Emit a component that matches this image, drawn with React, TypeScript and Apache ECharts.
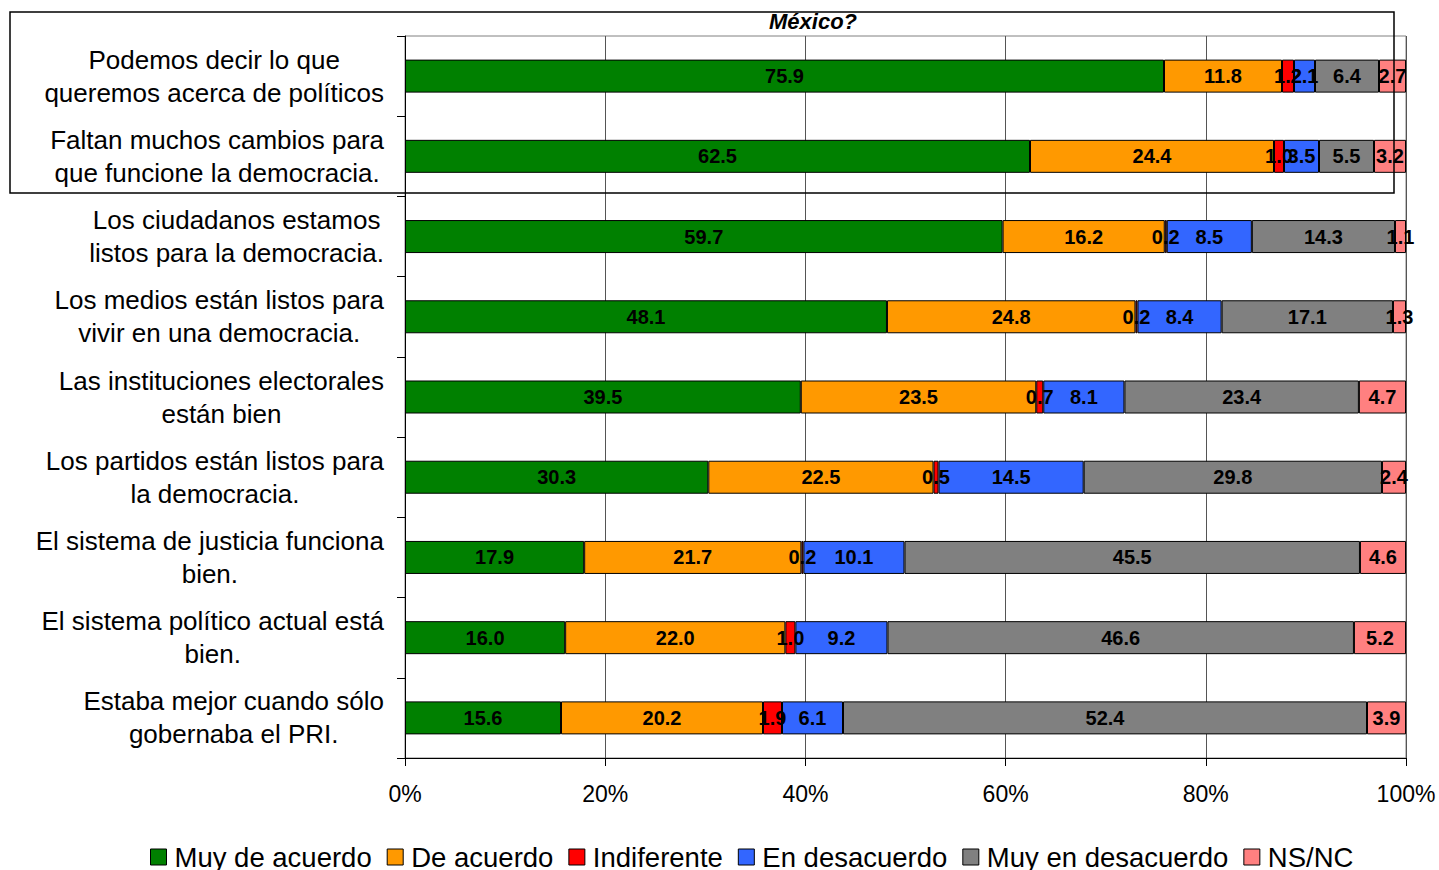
import React, { useEffect, useRef } from "react";
import * as echarts from "echarts";

const categories: string[] = [
  "Podemos decir lo que\nqueremos acerca de políticos",
  "Faltan muchos cambios para\nque funcione la democracia.",
  "Los ciudadanos estamos\nlistos para la democracia.",
  "Los medios están listos para\nvivir en una democracia.",
  "Las instituciones electorales\nestán bien",
  "Los partidos están listos para\nla democracia.",
  "El sistema de justicia funciona\nbien.",
  "El sistema político actual está\nbien.",
  "Estaba mejor cuando sólo\ngobernaba el PRI.",
];

const seriesNames = ["Muy de acuerdo", "De acuerdo", "Indiferente", "En desacuerdo", "Muy en desacuerdo", "NS/NC"];
const seriesColors = ["#008000", "#FF9900", "#FF0000", "#3366FF", "#808080", "#FF8080"];

const muyDeAcuerdo = [75.9, 62.5, 59.7, 48.1, 39.5, 30.3, 17.9, 16.0, 15.6];
const deAcuerdo = [11.8, 24.4, 16.2, 24.8, 23.5, 22.5, 21.7, 22.0, 20.2];
const indiferente = [1.2, 1.0, 0.2, 0.2, 0.7, 0.5, 0.2, 1.0, 1.9];
const enDesacuerdo = [2.1, 3.5, 8.5, 8.4, 8.1, 14.5, 10.1, 9.2, 6.1];
const muyEnDesacuerdo = [6.4, 5.5, 14.3, 17.1, 23.4, 29.8, 45.5, 46.6, 52.4];
const nsnc = [2.7, 3.2, 1.1, 1.3, 4.7, 2.4, 4.6, 5.2, 3.9];

const xTicks = [0, 20, 40, 60, 80, 100];

const allSeries = [muyDeAcuerdo, deAcuerdo, indiferente, enDesacuerdo, muyEnDesacuerdo, nsnc];

const FONT = "'Liberation Sans', Arial, sans-serif";

export default function App() {
  const ref = useRef<HTMLDivElement>(null);
  useEffect(() => {
    if (!ref.current) return;
    const chart = echarts.init(ref.current, null, { renderer: "svg" });
    const totals = categories.map((_, i) => allSeries.reduce((s, arr) => s + arr[i], 0));
    const series = allSeries.map((arr, si) => ({
      name: seriesNames[si],
      type: "bar",
      stack: "total",
      barWidth: 33,
      itemStyle: { color: seriesColors[si], borderColor: "#000", borderWidth: 1 },
      label: {
        show: true,
        position: "inside",
        color: "#000",
        fontFamily: FONT,
        fontWeight: "bold",
        fontSize: 20,
        formatter: (p: any) => p.data.raw.toFixed(1),
      },
      data: arr.map((v, i) => ({ value: (v / totals[i]) * 100, raw: v })),
    }));
    chart.setOption({
      animation: false,
      textStyle: { fontFamily: FONT },
      grid: {
        left: 405,
        right: 33,
        top: 36,
        bottom: 112,
        show: true,
        borderColor: "#808080",
        borderWidth: 1,
      },
      xAxis: {
        type: "value",
        min: xTicks[0],
        max: xTicks[xTicks.length - 1],
        interval: 20,
        axisLine: { show: true, lineStyle: { color: "#000", width: 1 } },
        axisTick: { show: true, length: 8, lineStyle: { color: "#000" } },
        splitLine: { show: true, lineStyle: { color: "#555", width: 1 } },
        axisLabel: {
          formatter: "{value}%",
          color: "#000",
          fontSize: 23,
          fontFamily: FONT,
          margin: 24,
        },
      },
      yAxis: {
        type: "category",
        inverse: true,
        data: categories,
        axisLine: { show: true, lineStyle: { color: "#000", width: 1 } },
        axisTick: { show: true, length: 8, lineStyle: { color: "#000" } },
        axisLabel: {
          color: "#000",
          fontSize: 26,
          lineHeight: 33,
          fontFamily: FONT,
          margin: 21,
          align: "right",
          formatter: (v: string) =>
            v
              .split("\n")
              .map((l) => "{c|" + l + "}")
              .join("\n"),
          rich: {
            c: { align: "center", fontSize: 26, lineHeight: 33, fontFamily: FONT, color: "#000" },
          },
        },
      },
      legend: {
        left: 145,
        top: 838,
        icon: "rect",
        itemWidth: 16,
        itemHeight: 16,
        itemGap: 15,
        itemStyle: { borderColor: "#000", borderWidth: 1 },
        textStyle: { color: "#000", fontSize: 27.5, fontFamily: FONT, padding: [0, 0, 0, 3] },
        data: seriesNames,
      },
      graphic: [
        {
          type: "rect",
          shape: { x: 10, y: 12, width: 1384, height: 181 },
          style: { fill: "none", stroke: "#000", lineWidth: 1.5 },
          z: 100,
        },
        {
          type: "text",
          x: 813,
          y: 21,
          style: {
            text: "México?",
            textAlign: "center",
            textVerticalAlign: "middle",
            fontFamily: FONT,
            fontStyle: "italic",
            fontWeight: "bold",
            fontSize: 22,
            fill: "#000",
          },
          z: 100,
        },
      ],
      series,
    });
    return () => chart.dispose();
  }, []);
  return (
    <div
      ref={ref}
      style={{ position: "fixed", left: 0, top: 0, width: 1439, height: 870, background: "#fff" }}
    />
  );
}
